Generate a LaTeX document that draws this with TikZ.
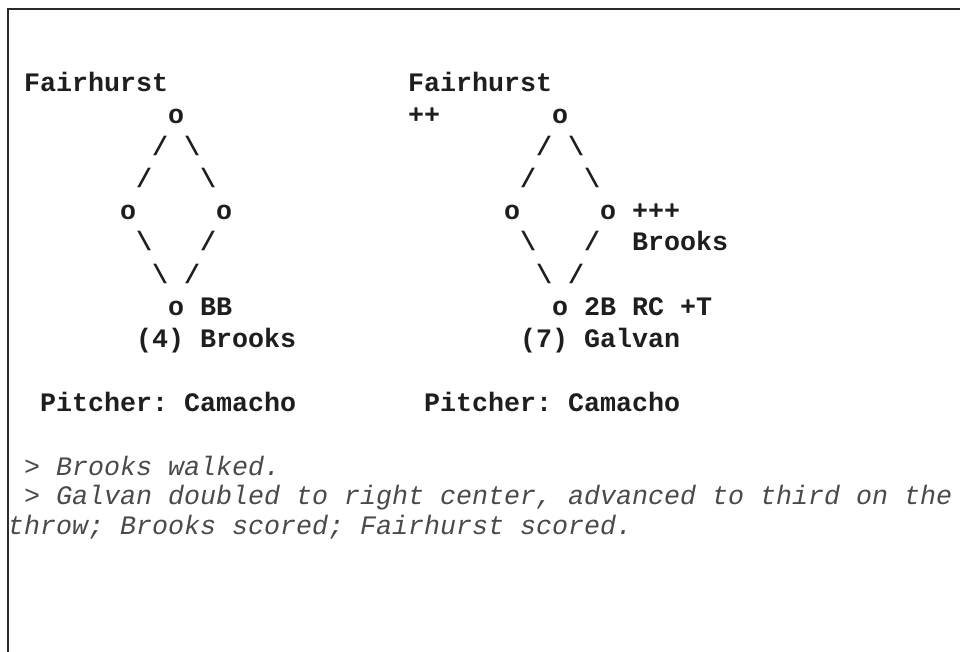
\documentclass[tikz,border=0pt]{standalone}
\usepackage{fontspec}
\newfontfamily\cmono{Liberation Mono}
\frenchspacing
\definecolor{txt}{HTML}{1E1E1E}
\definecolor{note}{HTML}{4A4A4A}
\definecolor{frame}{HTML}{2A2A2A}
\tikzset{
  tok/.style={anchor=base west, inner sep=0pt, outer sep=0pt, text=txt,
    font=\cmono\bfseries\fontsize{26.67}{32}\selectfont},
  notetok/.style={anchor=base west, inner sep=0pt, outer sep=0pt, text=note,
    font=\cmono\itshape\fontsize{26.67}{32}\selectfont},
  border/.style={draw=frame, line width=2pt}
}
\newcommand{\cx}[1]{8+16*#1}
\begin{document}
\begin{tikzpicture}[x=1pt,y=-1pt]
\useasboundingbox (0,0) rectangle (960,652);
\fill[white] (0,0) rectangle (960,652);
\coordinate (fbl) at (7.5,660);
\coordinate (ftl) at (7.5,9.5);
\coordinate (ftr) at (965,9.5);
\draw[border] (fbl) -- (ftl) -- (ftr);
% left diagram
\node[tok] (lname) at ({\cx{1}},92) {Fairhurst};
\node[tok] (lsec) at ({\cx{10}},124) {o};
\node[tok] (la1) at ({\cx{9}},156) {/};
\node[tok] (lb1) at ({\cx{11}},156) {\textbackslash};
\node[tok] (la2) at ({\cx{8}},188) {/};
\node[tok] (lb2) at ({\cx{12}},188) {\textbackslash};
\node[tok] (lthird) at ({\cx{7}},220) {o};
\node[tok] (lfirst) at ({\cx{13}},220) {o};
\node[tok] (lc1) at ({\cx{8}},251) {\textbackslash};
\node[tok] (ld1) at ({\cx{12}},251) {/};
\node[tok] (lc2) at ({\cx{9}},283) {\textbackslash};
\node[tok] (ld2) at ({\cx{11}},283) {/};
\node[tok] (lhome) at ({\cx{10}},315) {o};
\node[tok] (lres) at ({\cx{12}},315) {BB};
\node[tok] (lbat) at ({\cx{8}},347) {(4) Brooks};
\node[tok] (lpit) at ({\cx{2}},411) {Pitcher: Camacho};
% right diagram
\node[tok] (rname) at ({\cx{25}},92) {Fairhurst};
\node[tok] (rplus) at ({\cx{25}},124) {++};
\node[tok] (rsec) at ({\cx{34}},124) {o};
\node[tok] (ra1) at ({\cx{33}},156) {/};
\node[tok] (rb1) at ({\cx{35}},156) {\textbackslash};
\node[tok] (ra2) at ({\cx{32}},188) {/};
\node[tok] (rb2) at ({\cx{36}},188) {\textbackslash};
\node[tok] (rthird) at ({\cx{31}},220) {o};
\node[tok] (rfirst) at ({\cx{37}},220) {o};
\node[tok] (rplus3) at ({\cx{39}},220) {+++};
\node[tok] (rc1) at ({\cx{32}},251) {\textbackslash};
\node[tok] (rd1) at ({\cx{36}},251) {/};
\node[tok] (rrun) at ({\cx{39}},251) {Brooks};
\node[tok] (rc2) at ({\cx{33}},283) {\textbackslash};
\node[tok] (rd2) at ({\cx{35}},283) {/};
\node[tok] (rhome) at ({\cx{34}},315) {o};
\node[tok] (rres) at ({\cx{36}},315) {2B RC +T};
\node[tok] (rbat) at ({\cx{32}},347) {(7) Galvan};
\node[tok] (rpit) at ({\cx{26}},411) {Pitcher: Camacho};
% notes
\node[notetok] (n1) at ({\cx{1}},475) {> Brooks walked.};
\node[notetok] (n2) at ({\cx{1}},504.5) {> Galvan doubled to right center, advanced to third on the};
\node[notetok] (n3) at ({\cx{0}},534) {throw; Brooks scored; Fairhurst scored.};
\end{tikzpicture}
\end{document}
